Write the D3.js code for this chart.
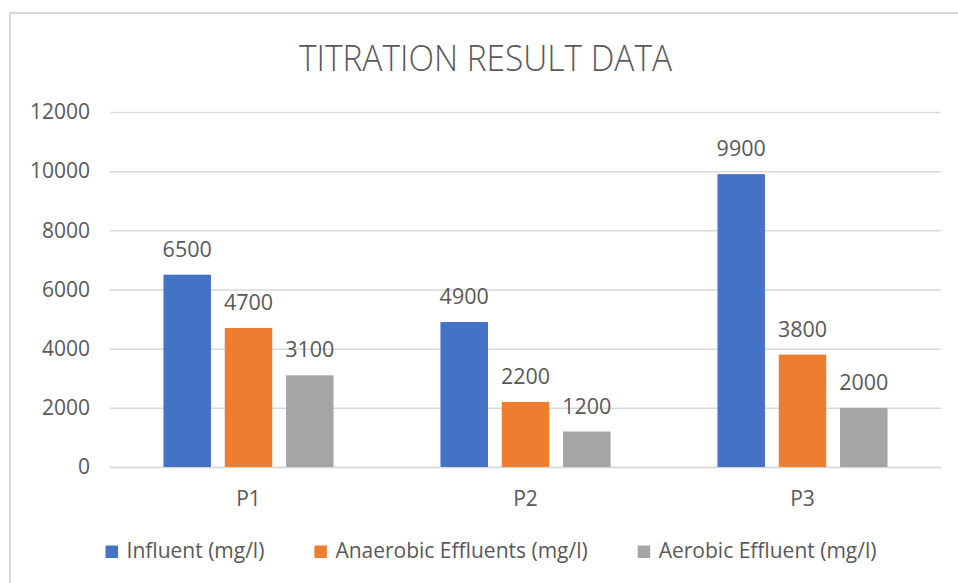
<!DOCTYPE html>
<html>
<head>
<meta charset="utf-8">
<script src="https://cdn.jsdelivr.net/npm/d3@7"></script>
<style>
  body { margin: 0; background: #fff; }
  svg { display: block; font-family: "Open Sans", "Noto Sans", sans-serif; }
</style>
</head>
<body>
<svg width="958" height="583"></svg>
<script>
// data
const categories = ["P1", "P2", "P3"];
const seriesNames = ["Influent (mg/l)", "Anaerobic Effluents (mg/l)", "Aerobic Effluent (mg/l)"];
const influent = [6500, 4900, 9900];
const anaerobic = [4700, 2200, 3800];
const aerobic = [3100, 1200, 2000];
const yTicks = [0, 2000, 4000, 6000, 8000, 10000, 12000];
const colors = ["#4472C4", "#ED7D31", "#A5A5A5"];

const seriesValues = [influent, anaerobic, aerobic];

let svg = d3.select("svg"),
    width = +svg.attr("width"),
    height = +svg.attr("height");

const textColor = "#595959";
const gridColor = "#d9d9d9";

// chart frame
svg.append("rect")
    .attr("x", 10).attr("y", 13)
    .attr("width", 960).attr("height", 600)
    .attr("fill", "none")
    .attr("stroke", gridColor)
    .attr("stroke-width", 2);

// title
svg.append("text")
    .attr("x", 299).attr("y", 71)
    .attr("fill", textColor)
    .attr("font-size", 37)
    .attr("font-weight", 300)
    .attr("textLength", 373)
    .attr("lengthAdjust", "spacingAndGlyphs")
    .text("TITRATION RESULT DATA");

const plot = {left: 110, right: 941, top: 112, bottom: 467};

let x0 = d3.scaleBand()
    .domain(categories)
    .range([plot.left, plot.right])
    .paddingInner(0.386)
    .paddingOuter(0.193);

let x1 = d3.scaleBand()
    .domain(d3.range(seriesNames.length))
    .range([0, x0.bandwidth()])
    .paddingInner(0.225);

let y = d3.scaleLinear()
    .domain([0, 12000])
    .range([plot.bottom, plot.top]);

// gridlines + y labels
let yAxis = d3.axisLeft(y)
    .tickValues(yTicks)
    .tickSize(-(plot.right - plot.left))
    .tickPadding(20)
    .tickFormat(d3.format("d"));

let gy = svg.append("g")
    .attr("transform", `translate(${plot.left},0)`)
    .call(yAxis);
gy.select(".domain").remove();
gy.selectAll(".tick line")
    .attr("stroke", gridColor)
    .attr("stroke-width", 1.5);
gy.selectAll(".tick text")
    .attr("fill", textColor)
    .attr("font-size", 21)
    .attr("font-family", "\"Open Sans\", sans-serif");

// x axis labels
let xAxis = d3.axisBottom(x0).tickSize(0).tickPadding(39);
let gx = svg.append("g")
    .attr("transform", `translate(0,${plot.bottom})`)
    .call(xAxis);
gx.select(".domain")
    .attr("stroke", gridColor)
    .attr("stroke-width", 1.5);
gx.selectAll(".tick text")
    .attr("dy", 0)
    .attr("fill", textColor)
    .attr("font-size", 21)
    .attr("font-family", "\"Open Sans\", sans-serif");

// bars
let groups = svg.append("g")
    .selectAll("g")
    .data(categories)
    .enter().append("g")
    .attr("transform", d => `translate(${x0(d)},0)`);

groups.selectAll("rect")
    .data((d, i) => seriesValues.map((vals, s) => ({s, v: vals[i]})))
    .enter().append("rect")
    .attr("x", d => x1(d.s))
    .attr("width", x1.bandwidth())
    .attr("y", d => y(d.v))
    .attr("height", d => y(0) - y(d.v))
    .attr("fill", d => colors[d.s]);

groups.selectAll("text")
    .data((d, i) => seriesValues.map((vals, s) => ({s, v: vals[i]})))
    .enter().append("text")
    .attr("x", d => x1(d.s) + x1.bandwidth() / 2)
    .attr("y", d => y(d.v) - 18)
    .attr("text-anchor", "middle")
    .attr("fill", textColor)
    .attr("font-size", 21.5)
    .text(d => d.v);

// legend
let legend = svg.append("g");
let items = legend.selectAll("g")
    .data(seriesNames)
    .enter().append("g");
items.append("rect")
    .attr("width", 12.5).attr("height", 12.5)
    .attr("y", -12.5)
    .attr("fill", (d, i) => colors[i]);
items.append("text")
    .attr("x", 21)
    .attr("fill", textColor)
    .attr("font-size", 21)
    .text(d => d);

let offset = 0;
items.each(function () {
    let w = 21 + this.querySelector("text").getComputedTextLength();
    d3.select(this).attr("transform", `translate(${offset},558)`);
    offset += w + 50;
});
let legendWidth = offset - 50;
legend.attr("transform", `translate(${491 - legendWidth / 2},0)`);
</script>
</body>
</html>
